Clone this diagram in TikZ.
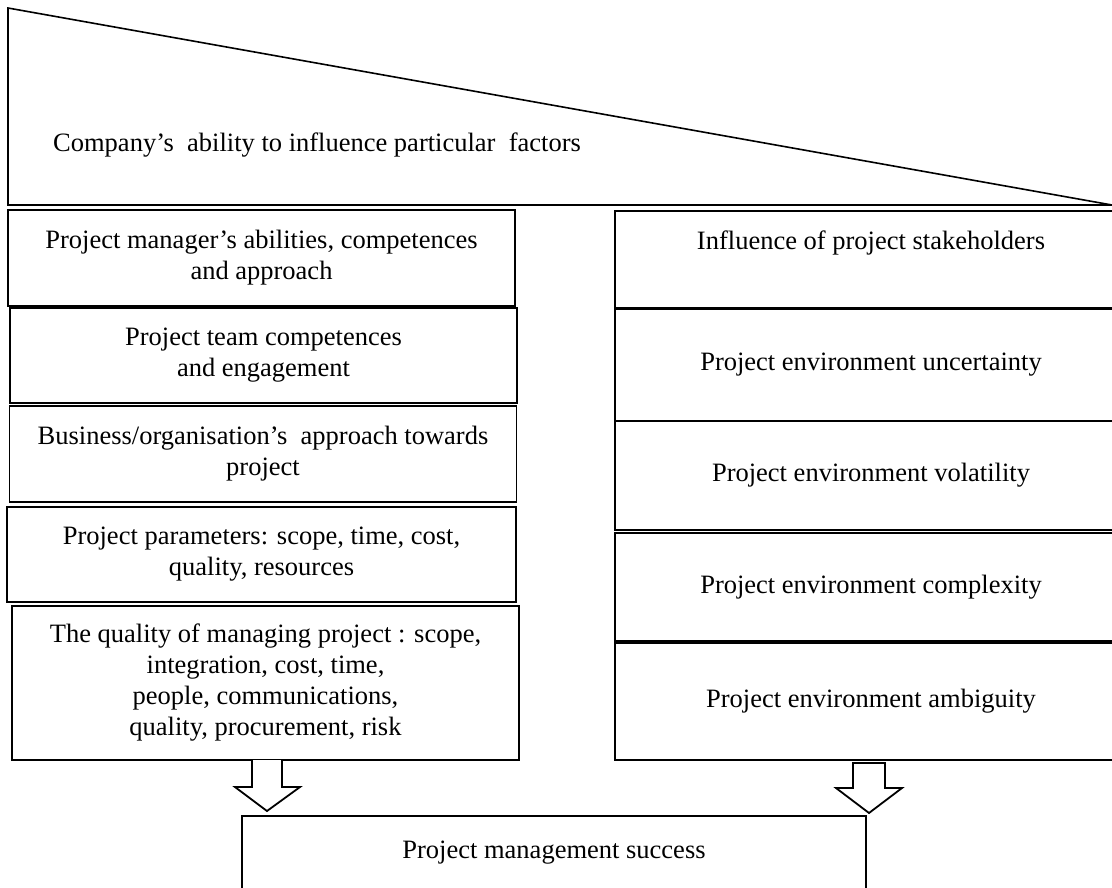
\documentclass[tikz,border=0pt]{standalone}
\usepackage{fontspec}
\setmainfont{Liberation Serif}
\begin{document}
\begin{tikzpicture}[x=1pt,y=-1pt,
  box/.style={draw=black, line width=1.6pt, fill=white, align=center, inner sep=0pt,
    font=\fontsize{26.5}{31}\selectfont},
  lbox/.style={box, minimum width=507pt},
  rbox/.style={box, minimum width=512pt},
  txt/.style={inner sep=0pt, align=center, font=\fontsize{26.5}{31}\selectfont},
  blk/.style={draw=black, line width=1.8pt, fill=white, line join=miter}]
\useasboundingbox (0,0) rectangle (1112,887);
\clip (0,0) rectangle (1112,887);
% top wedge
\coordinate (tl) at (8,8);
\coordinate (bl) at (8,205);
\coordinate (br) at (1112,205);
\draw[line width=1.6pt, line join=miter] (tl) -- (bl) -- (br) -- cycle;
\node[txt, anchor=west] (ability) at (53,145) {Company’s\ \ ability to influence particular\ \ factors};
% left column
\node[lbox, minimum height=96pt] (l1) at (261.5,258) {Project manager’s abilities, competences\\and approach};
\node[lbox, minimum height=95pt] (l2) at (263.5,355.5) {Project team competences\\and engagement};
\node[lbox, minimum height=96pt] (l3) at (263,454) {Business/organisation’s\ \ approach towards\\project};
\node[box, minimum width=509pt, minimum height=95pt] (l4) at (261.5,554.5) {Project parameters: scope, time, cost,\\quality, resources};
\node[lbox, minimum height=154pt] (l5) at (265.5,683) {The quality of managing project : scope,\\integration, cost, time,\\people, communications,\\quality, procurement, risk};
% right column
\node[rbox, minimum height=97pt] (r1) at (871,259.5) {};
\node[txt] (r1t) at (871,243) {Influence of project stakeholders};
\node[rbox, minimum height=112pt] (r2) at (871,365) {Project environment uncertainty};
\node[rbox, minimum height=109pt] (r3) at (871,475.5) {Project environment volatility};
\node[rbox, minimum height=108pt] (r4) at (871,587) {Project environment complexity};
\node[rbox, minimum height=117pt] (r5) at (871,701.5) {Project environment ambiguity};
% bottom box
\node[box, minimum width=624pt, minimum height=74pt] (pms) at (554,853) {Project management success};
% block arrows
\draw[blk] (252,760) -- (252,787) -- (235,787) -- (267,811) -- (300,787) -- (282,787) -- (282,760);
\draw[blk] (853,763) -- (853,788) -- (836,788) -- (869,813) -- (902,788) -- (885,788) -- (885,763) -- cycle;
\end{tikzpicture}
\end{document}
